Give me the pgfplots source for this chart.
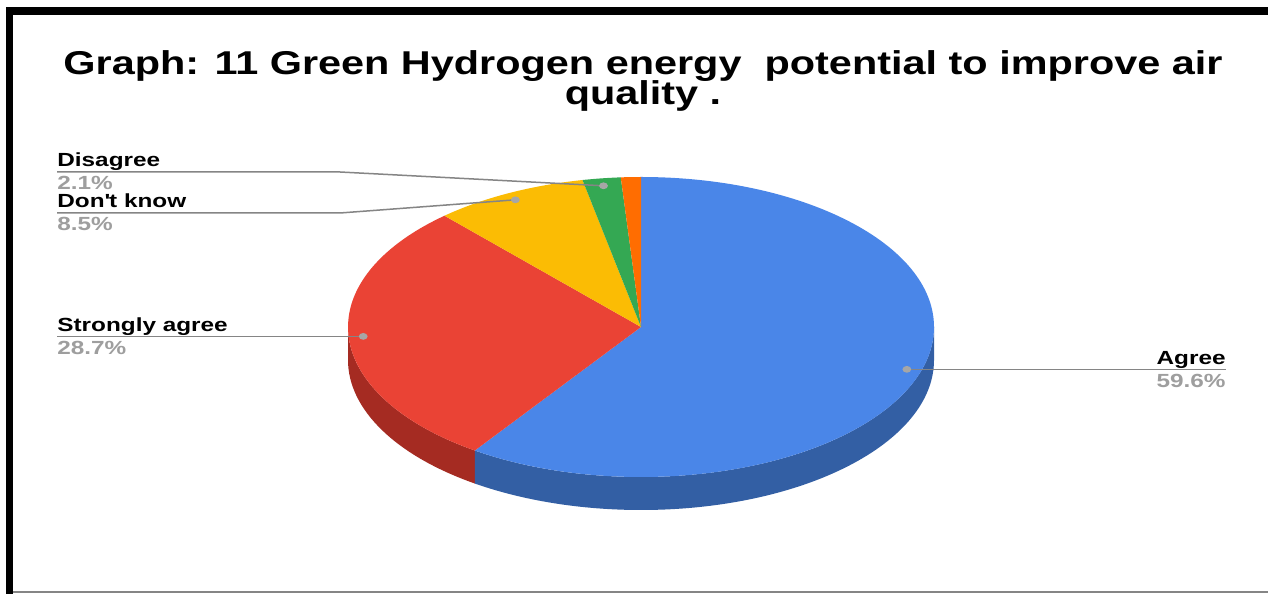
\documentclass[border=0pt]{standalone}
\usepackage{pgfplots}
\pgfplotsset{compat=1.18}
\usepackage{pgfplotstable}
\usepackage{fontspec}
\setmainfont{Liberation Sans}
\newfontfamily\titlefont[FakeStretch=1.255]{Liberation Sans}
\newfontfamily\labfont[FakeStretch=1.28]{Liberation Sans}
\definecolor{blueTop}{HTML}{4A86E8}
\definecolor{blueSide}{HTML}{335FA4}
\definecolor{redTop}{HTML}{EA4335}
\definecolor{redSide}{HTML}{A52B22}
\definecolor{yellowTop}{HTML}{FBBC04}
\definecolor{greenTop}{HTML}{34A853}
\definecolor{orangeTop}{HTML}{FF6D01}
\definecolor{leader}{HTML}{858585}
\definecolor{dotc}{HTML}{A6A6A6}
\definecolor{pctc}{HTML}{9E9E9E}

\pgfplotstableread{
label value
Agree 59.6
Strongly 28.7
Dont 8.5
Disagree 2.1
Other 1.1
}\piedata

\begin{document}
\begin{tikzpicture}
\pgfplotstablegetelem{0}{value}\of\piedata \pgfmathsetmacro\vA{\pgfplotsretval}
\pgfplotstablegetelem{1}{value}\of\piedata \pgfmathsetmacro\vS{\pgfplotsretval}
\pgfplotstablegetelem{2}{value}\of\piedata \pgfmathsetmacro\vD{\pgfplotsretval}
\pgfplotstablegetelem{3}{value}\of\piedata \pgfmathsetmacro\vG{\pgfplotsretval}
\pgfplotstablegetelem{4}{value}\of\piedata \pgfmathsetmacro\vO{\pgfplotsretval}
\pgfmathsetmacro\aZero{90}
\pgfmathsetmacro\aOne{\aZero-3.6*\vA}
\pgfmathsetmacro\aTwo{\aOne-3.6*\vS}
\pgfmathsetmacro\aThree{\aTwo-3.6*\vD}
\pgfmathsetmacro\aFour{\aThree-3.6*\vG}
\pgfmathsetmacro\aFive{\aFour-3.6*\vO}
\pgfmathsetmacro\mOne{(\aZero+\aOne)/2}
\pgfmathsetmacro\mTwo{(\aOne+\aTwo)/2}
\pgfmathsetmacro\mThree{(\aTwo+\aThree)/2}
\pgfmathsetmacro\mFour{(\aThree+\aFour)/2}
\begin{axis}[hide axis, scale only axis, width=634pt, height=297pt,
  xmin=0, xmax=1268, ymin=0, ymax=594, clip=false]
% background and frame
\fill[white] (axis cs:0,0) rectangle (axis cs:1268,594);
\fill[black] (axis cs:6,0) rectangle (axis cs:13,587);
\fill[black] (axis cs:6,579) rectangle (axis cs:1268,587);
\fill[leader] (axis cs:13,1.2) rectangle (axis cs:1268,3.2);
% title
\node[anchor=base, inner sep=0pt, font=\titlefont\fontsize{16.5pt}{18pt}\selectfont\bfseries] at (axis cs:643,519) {Graph: 11 Green Hydrogen energy \ potential to improve air};
\node[anchor=base, inner sep=0pt, font=\titlefont\fontsize{16.5pt}{18pt}\selectfont\bfseries] at (axis cs:643,489) {quality .};
% side faces
\fill[redSide] (axis cs:641,267) ++(-180:146.5pt and 75pt) arc[start angle=-180, end angle=\aOne, x radius=146.5pt, y radius=75pt] -- ++(0pt,-16.5pt) arc[start angle=\aOne, end angle=-180, x radius=146.5pt, y radius=75pt] -- cycle;
\fill[blueSide] (axis cs:641,267) ++(\aOne:146.5pt and 75pt) arc[start angle=\aOne, end angle=0, x radius=146.5pt, y radius=75pt] -- ++(0pt,-16.5pt) arc[start angle=0, end angle=\aOne, x radius=146.5pt, y radius=75pt] -- cycle;
% top faces
\fill[blueTop] (axis cs:641,267) -- ++(\aZero:146.5pt and 75pt) arc[start angle=\aZero, end angle=\aOne, x radius=146.5pt, y radius=75pt] -- cycle;
\fill[redTop] (axis cs:641,267) -- ++(\aOne:146.5pt and 75pt) arc[start angle=\aOne, end angle=\aTwo, x radius=146.5pt, y radius=75pt] -- cycle;
\fill[yellowTop] (axis cs:641,267) -- ++(\aTwo:146.5pt and 75pt) arc[start angle=\aTwo, end angle=\aThree, x radius=146.5pt, y radius=75pt] -- cycle;
\fill[greenTop] (axis cs:641,267) -- ++(\aThree:146.5pt and 75pt) arc[start angle=\aThree, end angle=\aFour, x radius=146.5pt, y radius=75pt] -- cycle;
\fill[orangeTop] (axis cs:641,267) -- ++(\aFour:146.5pt and 75pt) arc[start angle=\aFour, end angle=\aFive, x radius=146.5pt, y radius=75pt] -- cycle;
% leader dots
\path (axis cs:641,267) ++(\mOne:139.2pt and 71.25pt) coordinate (dA);
\path (axis cs:641,267) ++(\mTwo:139.2pt and 71.25pt) coordinate (dS);
\path (axis cs:641,267) ++(\mThree:139.2pt and 71.25pt) coordinate (dD);
\path (axis cs:641,267) ++(\mFour:139.2pt and 71.25pt) coordinate (dG);
\coordinate (eR) at (axis cs:1226,0);
\coordinate (eL) at (axis cs:57,0);
\draw[leader, line width=0.75pt] (dA) -- (eR |- dA);
\draw[leader, line width=0.75pt] (dS) -- (eL |- dS);
\draw[leader, line width=0.75pt] (dD) -- (axis cs:340,381) -- (axis cs:57,381);
\draw[leader, line width=0.75pt] (dG) -- (axis cs:340,422) -- (axis cs:57,422);
\fill[dotc] (dA) ellipse[x radius=2.2pt, y radius=1.7pt];
\fill[dotc] (dS) ellipse[x radius=2.2pt, y radius=1.7pt];
\fill[dotc] (dD) ellipse[x radius=2.2pt, y radius=1.7pt];
\fill[dotc] (dG) ellipse[x radius=2.2pt, y radius=1.7pt];
% labels
\tikzset{lab/.style={inner sep=0pt, font=\labfont\fontsize{9.5pt}{11pt}\selectfont\bfseries}}
\node[lab, anchor=base east] at (axis cs:1226,229) {Agree};
\node[lab, anchor=base east, text=pctc] at (axis cs:1226,206) {59.6\%};
\node[lab, anchor=base west] at (axis cs:57,262) {Strongly agree};
\node[lab, anchor=base west, text=pctc] at (axis cs:57,239) {28.7\%};
\node[lab, anchor=base west] at (axis cs:57,427) {Disagree};
\node[lab, anchor=base west, text=pctc] at (axis cs:57,404) {2.1\%};
\node[lab, anchor=base west] at (axis cs:57,386) {Don\textquotesingle t know};
\node[lab, anchor=base west, text=pctc] at (axis cs:57,363) {8.5\%};
\end{axis}
\end{tikzpicture}
\end{document}
